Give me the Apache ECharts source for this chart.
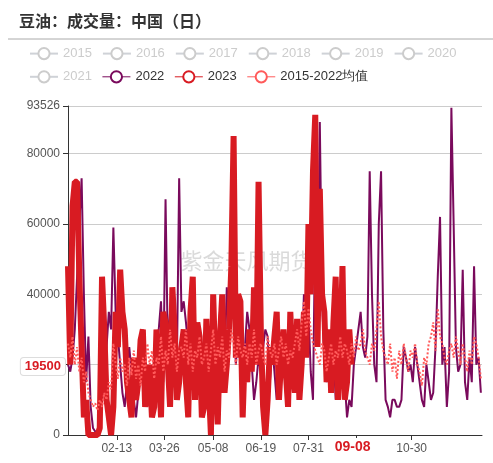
<!DOCTYPE html>
<html><head><meta charset="utf-8">
<script src="https://cdn.jsdelivr.net/npm/echarts@6/dist/echarts.min.js"></script>
<style>html,body{margin:0;padding:0;background:#fff}#c{width:493px;height:463px}</style>
</head><body><div id="c"></div>
<script>
// values in thousands, sampled every 2 calendar days starting 01-01
const tickLabels = ['02-13','03-26','05-08','06-19','07-31','09-11','10-30'];
const v2022 = [20,18,22,30,45,60,73,40,15,28, 8,2,1,1,2,10,20,25,35,30, 59,35,28,20,12,8,15,25,18,10,
 5,12,20,30,22,15,8,18,10,25, 30,38,15,67,25,35,40,38,20,73, 35,38,32,25,40,30,20,15,30,22,
 18,10,25,30,20,12,25,35,28,20, 42,30,38,35,20,30,28,22,25,35, 30,20,10,15,22,18,25,30,28,15,
 25,18,10,20,28,25,22,15,20,25, 22,28,25,20,40,30,35,18,10,62, 30,89,40,20,15,28,30,25,10,18,
 20,15,15,5,10,8,20,25,30,35, 25,22,28,75,40,20,15,60,75,30, 10,8,5,10,10,8,8,10,25,22,
 18,20,15,25,20,15,10,8,20,15, 10,12,25,45,62,20,25,8,18,93, 60,25,18,20,47,15,10,22,15,48,20,22,12];
const v2023 = [48,20,65,72,72,45,25,5,10,0, 0,0,0,0,2,45,30,10,5,0, 8,35,25,47,35,30,15,10,5,22,
 10,15,27,30,8,12,20,5,8,30, 20,5,35,32,20,8,42,30,10,15, 25,30,15,5,35,45,10,32,28,5,
 8,33,15,0,40,18,3,28,40,12, 20,30,48,85,22,40,38,5,25,15, 30,18,42,20,72,30,8,0,10,25,
 20,28,35,10,22,30,18,8,35,20, 12,33,10,20,35,22,60,40,75,91, 25,70,40,35,15,30,12,32,45,10,
 22,48,10,15,30,20];
const vMean = [26,22,28,20,25,18,22,15,18,12, 10,8,9,7,10,8,12,10,15,13, 26,20,16,22,18,20,14,22,17,24,
 16,20,14,22,18,26,20,24,16,22, 20,28,18,24,20,30,22,26,18,24, 25,22,30,20,26,18,24,22,28,20,
 22,26,18,24,30,20,25,22,28,18, 24,22,30,26,20,28,24,22,26,20, 26,22,30,20,24,26,22,20,28,24,
 22,26,20,24,28,22,26,20,24,22, 26,30,24,32,38,28,36,30,26,24, 22,20,26,24,18,22,26,20,24,22,
 28,22,26,24,20,26,22,28,24,26, 30,24,22,20,26,24,30,38,28,24, 22,20,26,18,22,16,24,20,26,22,
 18,24,22,26,20,18,14,22,20,26, 28,32,24,36,28,26,22,20,24,26, 22,28,24,20,26,22,18,24,20,28,26,22,16];

const days = [];
const mdays = [31,29,31,30,31,30,31,31,30,31,30,31];
for (let m=0;m<12;m++) for (let d=1;d<=mdays[m];d++) days.push(String(m+1).padStart(2,'0')+'-'+String(d).padStart(2,'0'));
function expand(arr){const out=new Array(days.length).fill(null);arr.forEach((v,i)=>{if(2*i<days.length)out[2*i]=v*1000;});return out;}

const gray = ['2015','2016','2017','2018','2019','2020','2021'];
const series = gray.map(n=>({name:n,type:'line',data:[],symbol:'emptyCircle',itemStyle:{color:'#ccc'}}));
series.push({name:'2022',type:'line',data:expand(v2022),connectNulls:true,showSymbol:false,symbol:'emptyCircle',
  lineStyle:{width:2,color:'#7a0a5c'},itemStyle:{color:'#7a0a5c'}});
series.push({name:'2023',type:'line',data:expand(v2023),connectNulls:true,showSymbol:false,symbol:'emptyCircle',
  lineStyle:{width:6,color:'#d81b22'},itemStyle:{color:'#d81b22'}});
series.push({name:'2015-2022均值',type:'line',data:expand(vMean),connectNulls:true,showSymbol:false,symbol:'emptyCircle',
  lineStyle:{width:2,color:'#ff5a5a',type:'dotted'},itemStyle:{color:'#ff5a5a'}});

const sel={};gray.forEach(n=>sel[n]=false);
const chart = echarts.init(document.getElementById('c'));
chart.setOption({
  animation:false,
  title:{text:'豆油：成交量：中国（日）',left:14,top:8,textStyle:{fontSize:16,fontWeight:'bold',color:'#333',fontFamily:'Noto Sans CJK SC'}},
  graphic:[{type:'line',shape:{x1:8,y1:39,x2:493,y2:39},style:{stroke:'#aaa',lineWidth:1}},
    {type:'text',left:'center',top:250,style:{text:'紫金天风期货',fill:'rgba(150,150,150,0.35)',fontSize:22,fontFamily:'Noto Sans CJK SC'}}],
  legend:{top:42,left:24,right:10,itemWidth:28,itemHeight:14,itemGap:10,
    lineStyle:{width:1,type:'solid'},itemStyle:{borderWidth:1},
    inactiveColor:'#ccc',textStyle:{fontSize:13,color:'#333'},selected:sel,
    data:gray.concat(['2022','2023','2015-2022均值'])},
  grid:{left:68,right:11,top:106,bottom:28},
  xAxis:{type:'category',data:days,boundaryGap:false,
    axisLine:{lineStyle:{color:'#333'}},
    axisTick:{interval:(i,v)=>tickLabels.includes(v),alignWithLabel:true},
    axisLabel:{interval:(i,v)=>tickLabels.includes(v),color:'#555',fontSize:12},
    axisPointer:{show:true,value:'09-08',status:'show',lineStyle:{opacity:0},
      label:{backgroundColor:'#fff',color:'#d81b22',fontWeight:'bold',fontSize:14,padding:[2,4]}}},
  yAxis:{type:'value',min:0,max:93526,interval:20000,
    axisLine:{show:true,lineStyle:{color:'#333'}},axisTick:{show:true},
    splitLine:{lineStyle:{color:'#ccc'}},
    axisLabel:{color:'#555',fontSize:12,showMaxLabel:true,formatter:v=>String(v)},
    axisPointer:{show:true,value:19500,status:'show',lineStyle:{opacity:0},
      label:{formatter:p=>String(Math.round(p.value)),backgroundColor:'#fff',color:'#d81b22',fontWeight:'bold',fontSize:13,borderColor:'#ddd',borderWidth:1,padding:[2,4]}}},
  series:series
});
</script></body></html>
